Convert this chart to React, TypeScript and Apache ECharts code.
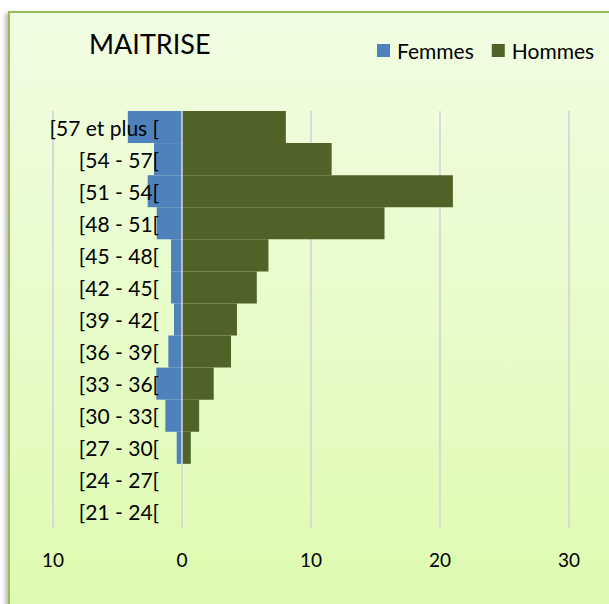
import React, { useEffect, useRef } from "react";
import * as echarts from "echarts";

const categories = [
  "[21 - 24[",
  "[24 - 27[",
  "[27 - 30[",
  "[30 - 33[",
  "[33 - 36[",
  "[36 - 39[",
  "[39 - 42[",
  "[42 - 45[",
  "[45 - 48[",
  "[48 - 51[",
  "[51 - 54[",
  "[54 - 57[",
  "[57 et plus [",
];

// Femmes (drawn to the left, negative)
const femmes = [0, 0, 0.41, 1.29, 1.99, 1.06, 0.62, 0.85, 0.85, 1.96, 2.66, 2.17, 4.2];
// Hommes (drawn to the right)
const hommes = [0, 0, 0.68, 1.33, 2.46, 3.8, 4.26, 5.8, 6.7, 15.7, 21.0, 11.6, 8.05];

const xMin = -10;
const xMax = 30;
const xInterval = 10;

const FONT = "Lato, 'Open Sans', sans-serif";

export default function App() {
  const ref = useRef<HTMLDivElement>(null);

  useEffect(() => {
    if (!ref.current) return;
    const chart = echarts.init(ref.current, undefined, { renderer: "svg" });
    chart.setOption({
      animation: false,
      backgroundColor: "transparent",
      title: {
        text: "MAITRISE",
        left: 84,
        top: 25,
        textStyle: { fontFamily: FONT, fontSize: 27, fontWeight: "normal", color: "#000" },
      },
      legend: {
        left: 372,
        top: 35,
        itemWidth: 13,
        itemHeight: 13,
        itemGap: 18,
        icon: "rect",
        textStyle: { fontFamily: FONT, fontSize: 21, color: "#000", padding: [0, 0, 0, 2] },
        data: ["Femmes", "Hommes"],
      },
      grid: { left: 53, right: 40, top: 111, bottom: 76, containLabel: false, outerBoundsMode: "none" },
      xAxis: {
        type: "value",
        min: xMin,
        max: xMax,
        interval: xInterval,
        axisLine: { show: false },
        axisTick: { show: false },
        splitLine: { show: true, lineStyle: { color: "#d9d9d9", width: 2 } },
        axisLabel: {
          formatter: (v: number) => String(Math.abs(v)),
          fontFamily: FONT,
          fontSize: 19,
          color: "#000",
          margin: 22,
        },
      },
      yAxis: {
        type: "category",
        data: categories,
        z: 10,
        axisLine: { show: false },
        axisTick: { show: false },
        axisLabel: {
          fontFamily: FONT,
          fontSize: 21,
          color: "#000",
          margin: -106,
        },
      },
      series: [
        {
          name: "Femmes",
          type: "bar",
          stack: "total",
          barCategoryGap: 0,
          itemStyle: { color: "#4f81bd" },
          data: femmes.map((v) => -v),
        },
        {
          name: "Hommes",
          type: "bar",
          stack: "total",
          barCategoryGap: 0,
          itemStyle: { color: "#4f6228" },
          data: hommes,
          markLine: {
            silent: true,
            symbol: "none",
            label: { show: false },
            lineStyle: { color: "#d9d9d9", width: 1.5, type: "solid" },
            data: [{ xAxis: 0 }],
          },
        },
      ],
    });
    return () => chart.dispose();
  }, []);

  return (
    <div
      style={{
        position: "fixed",
        left: 0,
        top: 0,
        width: 609,
        height: 604,
        overflow: "hidden",
        background: "#ffffff",
      }}
    >
      <div
        style={{
          position: "absolute",
          left: 8,
          top: 11,
          width: 700,
          height: 700,
          boxSizing: "border-box",
          border: "2px solid #9bbb59",
          background: "linear-gradient(to bottom, #f1fde3 0%, #e6fcc6 50%, #dafba6 100%)",
          boxShadow: "-3px 2px 4px rgba(0,0,0,0.25)",
        }}
      />
      <div ref={ref} style={{ position: "absolute", left: 0, top: 0, width: 609, height: 604 }} />
    </div>
  );
}
